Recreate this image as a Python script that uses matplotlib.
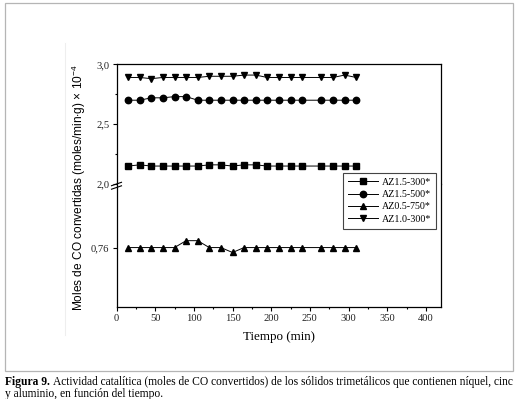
import matplotlib
matplotlib.use("Agg")
import matplotlib.pyplot as plt
from matplotlib.lines import Line2D
from matplotlib.patches import Rectangle
from matplotlib.text import Annotation
from matplotlib.transforms import ScaledTranslation

# time points (min)
tiempo = [15, 30, 45, 60, 75, 90, 105, 120, 135, 150, 165, 180, 195, 210,
          225, 240, 265, 280, 295, 310]

# CO converted, moles/(min g) x 1e-4
az15_300 = [2.15, 2.16, 2.15, 2.15, 2.15, 2.15, 2.15, 2.16, 2.16, 2.15,
            2.16, 2.16, 2.15, 2.15, 2.15, 2.15, 2.15, 2.15, 2.15, 2.15]
az15_500 = [2.70, 2.70, 2.72, 2.72, 2.73, 2.73, 2.70, 2.70, 2.70, 2.70,
            2.70, 2.70, 2.70, 2.70, 2.70, 2.70, 2.70, 2.70, 2.70, 2.70]
az05_750 = [0.760, 0.760, 0.760, 0.760, 0.760, 0.767, 0.767, 0.760, 0.760, 0.755,
            0.760, 0.760, 0.760, 0.760, 0.760, 0.760, 0.760, 0.760, 0.760, 0.760]
az10_300 = [2.89, 2.89, 2.88, 2.89, 2.89, 2.89, 2.89, 2.90, 2.90, 2.90,
            2.91, 2.91, 2.89, 2.89, 2.89, 2.89, 2.89, 2.89, 2.91, 2.89]

labels = ["AZ1.5-300*", "AZ1.5-500*", "AZ0.5-750*", "AZ1.0-300*"]
xticks = [0, 50, 100, 150, 200, 250, 300, 350, 400]
top_ticks = [2.0, 2.5, 3.0]
top_ticklabels = ["2,0", "2,5", "3,0"]
bot_ticks = [0.76]
bot_ticklabels = ["0,76"]

W, H = 519, 399
serif = "Liberation Serif"
sans = "Liberation Sans"
plt.rcParams["font.family"] = [serif, "DejaVu Serif"]
plt.rcParams["mathtext.fontset"] = "custom"
plt.rcParams["mathtext.rm"] = sans

fig = plt.figure(figsize=(W / 100, H / 100), dpi=100)

# axes box in pixels: left 116.5, right 441.3, top 64.3, break 184, bottom 306.7
x0, x1 = 116.5 / W, 441.3 / W
y_top, y_brk, y_bot = 1 - 64.3 / H, 1 - 184 / H, 1 - 306.7 / H
ax_top = fig.add_axes([x0, y_brk, x1 - x0, y_top - y_brk])
ax_bot = fig.add_axes([x0, y_bot, x1 - x0, y_brk - y_bot], sharex=ax_top)

style = dict(color="black", lw=0.7, markersize=4.6)
h1, = ax_top.plot(tiempo, az15_300, marker="s", **style)
h2, = ax_top.plot(tiempo, az15_500, marker="o", **style)
h3, = ax_bot.plot(tiempo, az05_750, marker="^", **style)
h4, = ax_top.plot(tiempo, az10_300, marker="v", **style)

ax_top.set_xlim(0, 420)
ax_top.set_ylim(2.0, 3.0)
ax_bot.set_ylim(0.70, 0.8245)

for ax in (ax_top, ax_bot):
    for s in ax.spines.values():
        s.set_linewidth(0.9)
    ax.tick_params(which="both", direction="out", width=0.8, labelsize=7.6,
                   pad=2, right=False, top=False, labelcolor="#222222")
    ax.tick_params(which="major", length=3)
    ax.tick_params(which="minor", length=1.6)

ax_top.spines["bottom"].set_visible(False)
ax_bot.spines["top"].set_visible(False)
ax_top.tick_params(axis="x", which="both", bottom=False, labelbottom=False)

ax_top.set_yticks(top_ticks)
ax_top.set_yticklabels(top_ticklabels)
ax_top.set_yticks([2.25, 2.75], minor=True)
ax_bot.set_yticks(bot_ticks)
ax_bot.set_yticklabels(bot_ticklabels)

ax_bot.set_xticks(xticks)
ax_bot.set_xticks(range(25, 425, 50), minor=True)
ax_bot.tick_params(axis="x", pad=2.5)

# break marks on the left spine
trans = fig.dpi_scale_trans + ScaledTranslation(0, 1, ax_bot.transAxes)
for dy in (0.0, -0.035):
    ax_bot.add_line(Line2D([-0.05, 0.05], [dy - 0.017, dy + 0.017], color="black",
                           lw=0.8, transform=trans, clip_on=False))

fig.text(79 / W, 1 - 187.5 / H,
         "Moles de CO convertidas (moles/min$\\cdot$g) × 10$^{-4}$",
         rotation=90, ha="center", va="center", fontsize=8.6, family=[sans])
fig.text(279 / W, 1 - 337 / H, "Tiempo (min)", ha="center", va="center", fontsize=9.4)

leg = fig.legend([h1, h2, h3, h4], labels, loc="upper left",
                 bbox_to_anchor=(343 / W, 1 - 173 / H), fontsize=7.2, frameon=True,
                 fancybox=False, edgecolor="#444444", framealpha=1, borderpad=0.5,
                 handlelength=3.0, handletextpad=0.4, labelspacing=0.32,
                 borderaxespad=0)
leg.get_frame().set_linewidth(0.8)

# outer frame and a faint scan line
fig.add_artist(Rectangle((5 / W, 1 - 371 / H), 507.5 / W, 368 / H, fill=False,
                         edgecolor="#b5b5b5", lw=0.9, transform=fig.transFigure))
fig.add_artist(Line2D([65 / W, 65 / W], [1 - 43 / H, 1 - 335 / H], color="#eeeeee",
                      lw=0.8, transform=fig.transFigure))

# caption
cap = fig.text(5 / W, 1 - 381.5 / H, "Figura 9.", fontsize=8.3, weight="bold",
               va="center")
fig.add_artist(Annotation(
    "Actividad catalítica (moles de CO convertidos) de los sólidos trimetálicos "
    "que contienen níquel, cinc", xy=(1, 0.5), xycoords=cap, xytext=(2, 0),
    textcoords="offset points", va="center", fontsize=8.3))
fig.text(5 / W, 1 - 393.5 / H, "y aluminio, en función del tiempo.", fontsize=8.3,
         va="center")

fig.savefig("out.png", dpi=100)
